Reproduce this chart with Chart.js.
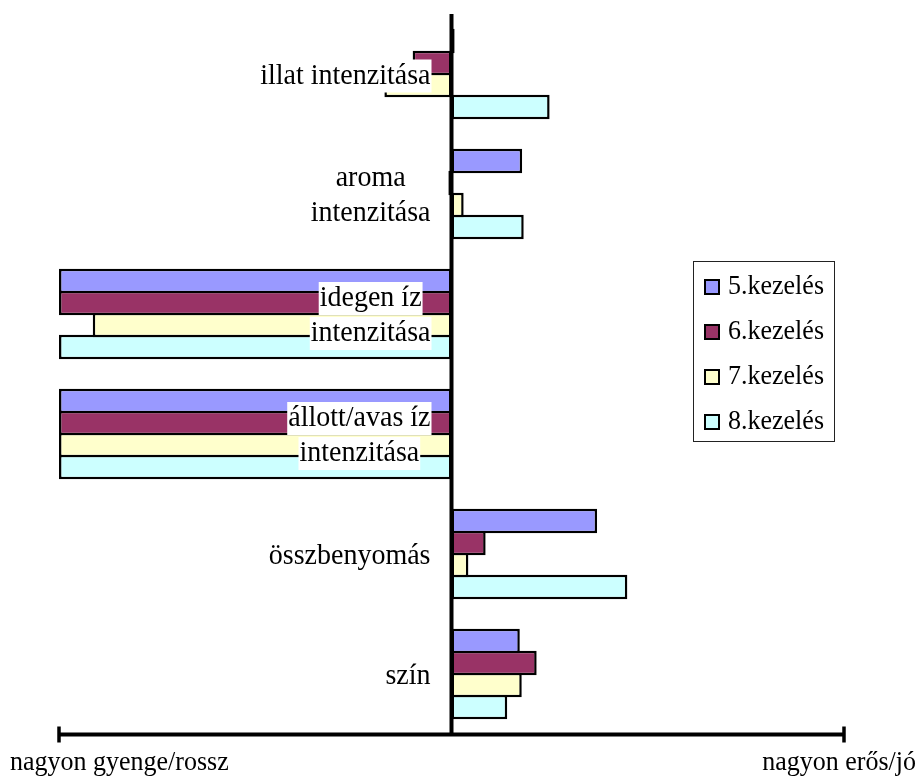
<!DOCTYPE html>
<html>
<head>
<meta charset="utf-8">
<script src="https://cdn.jsdelivr.net/npm/chart.js@4/dist/chart.umd.min.js"></script>
<style>
  html, body { margin: 0; padding: 0; background: #fff; }
  #wrap { width: 920px; height: 776px; }
</style>
</head>
<body>
<div id="wrap"><canvas id="c" width="920" height="776"></canvas></div>
<script>
// Sensory attributes (one label line per array entry)
const categories = [
  ['illat intenzitása'],
  ['aroma', 'intenzitása'],
  ['idegen íz', 'intenzitása'],
  ['állott/avas íz', 'intenzitása'],
  ['összbenyomás'],
  ['szín']
];
const seriesNames = ['5.kezelés', '6.kezelés', '7.kezelés', '8.kezelés'];

// Scores on a -100 (very weak/bad) .. +100 (very strong/good) scale
const kezeles5 = [0.8, 18.0, -100, -100, 37.1, 17.4];
const kezeles6 = [-9.9, -0.8, -100, -100, 8.7, 21.7];
const kezeles7 = [-17.1, 3.1, -91.4, -100, 4.3, 17.9];
const kezeles8 = [25.0, 18.4, -100, -100, 44.8, 14.2];

const scaleMin = -100;
const scaleMax = 100;
const scaleEndLabels = ['nagyon gyenge/rossz', 'nagyon erős/jó'];

const seriesColors = ['#9999FF', '#993366', '#FFFFCC', '#CCFFFF'];
const serif = '"Liberation Serif", "Times New Roman", serif';
const textStretch = 1.05;   // slightly tall lettering
const barBorder = 2.5;

const seriesData = [kezeles5, kezeles6, kezeles7, kezeles8];

function drawText(ctx, text, x, y, align, baseline) {
  ctx.save();
  ctx.translate(x, y);
  ctx.scale(1, textStretch);
  ctx.textAlign = align;
  ctx.textBaseline = baseline;
  ctx.fillText(text, 0, 0);
  ctx.restore();
}

// Zero line, bottom scale bar, in-plot category labels and the boxed legend
const overlay = {
  id: 'overlay',
  afterDatasetsDraw(chart) {
    const { ctx, chartArea: a, scales: { x, y } } = chart;
    const x0 = x.getPixelForValue(0);
    const xl = x.getPixelForValue(scaleMin);
    const xr = x.getPixelForValue(scaleMax);
    ctx.save();

    // vertical zero line
    ctx.strokeStyle = '#000';
    ctx.lineWidth = 4;
    ctx.beginPath();
    ctx.moveTo(x0, a.top);
    ctx.lineTo(x0, a.bottom);
    ctx.stroke();

    // bottom scale bar with end ticks
    const yb = a.bottom + 0.5;
    ctx.lineWidth = 4;
    ctx.beginPath();
    ctx.moveTo(xl, yb);
    ctx.lineTo(xr, yb);
    ctx.stroke();
    ctx.lineWidth = 3.5;
    [xl, xr].forEach(px => {
      ctx.beginPath();
      ctx.moveTo(px, yb - 8);
      ctx.lineTo(px, yb + 8);
      ctx.stroke();
    });

    // scale end labels
    ctx.fillStyle = '#000';
    ctx.font = '26px ' + serif;
    const wl = ctx.measureText(scaleEndLabels[0]).width;
    drawText(ctx, scaleEndLabels[0], Math.max(10, xl - wl / 2), 770, 'left', 'alphabetic');
    const wr = ctx.measureText(scaleEndLabels[1]).width;
    drawText(ctx, scaleEndLabels[1], Math.min(chart.width - 4 - wr, xr - wr / 2), 770, 'left', 'alphabetic');

    // category labels left of the zero line, each line on a white box
    ctx.font = '28px ' + serif;
    const lineH = 35;
    categories.forEach((lines, i) => {
      const yc = y.getPixelForValue(i) + 2;
      const widths = lines.map(t => ctx.measureText(t).width);
      const maxW = Math.max(...widths);
      const right = x0 - 21;
      const cx = right - maxW / 2;
      lines.forEach((t, j) => {
        const ly = yc + (j - (lines.length - 1) / 2) * lineH;
        ctx.fillStyle = '#fff';
        ctx.fillRect(cx - widths[j] / 2 - 1, ly - 16.5, widths[j] + 2, 33);
        ctx.fillStyle = '#000';
        drawText(ctx, t, cx, ly, 'center', 'middle');
      });
    });

    // legend
    const lx = 693.5, ly0 = 261.5, lw = 141, lh = 180;
    ctx.fillStyle = '#fff';
    ctx.fillRect(lx, ly0, lw, lh);
    ctx.strokeStyle = '#222';
    ctx.lineWidth = 1;
    ctx.strokeRect(lx, ly0, lw, lh);
    ctx.font = '26px ' + serif;
    chart.data.datasets.forEach((ds, i) => {
      const ry = 287 + 45 * i;
      ctx.fillStyle = ds.backgroundColor;
      ctx.fillRect(705, ry - 7, 14, 14);
      ctx.strokeStyle = '#000';
      ctx.lineWidth = 2;
      ctx.strokeRect(705, ry - 7, 14, 14);
      ctx.fillStyle = '#000';
      drawText(ctx, ds.label, 728, ry, 'left', 'middle');
    });

    ctx.restore();
  }
};

new Chart(document.getElementById('c'), {
  type: 'bar',
  data: {
    labels: categories,
    datasets: seriesNames.map((name, i) => ({
      label: name,
      data: seriesData[i],
      backgroundColor: seriesColors[i],
      borderColor: '#000',
      borderWidth: barBorder,
      borderSkipped: false,
      categoryPercentage: 88 / 120,
      barPercentage: (22 + barBorder) / 22
    }))
  },
  options: {
    indexAxis: 'y',
    responsive: false,
    animation: false,
    layout: { padding: { left: 59, right: 76, top: 14, bottom: 42 } },
    scales: {
      x: { display: false, min: scaleMin, max: scaleMax },
      y: { display: false }
    },
    plugins: {
      legend: { display: false },
      tooltip: { enabled: false }
    }
  },
  plugins: [overlay]
});
</script>
</body>
</html>
